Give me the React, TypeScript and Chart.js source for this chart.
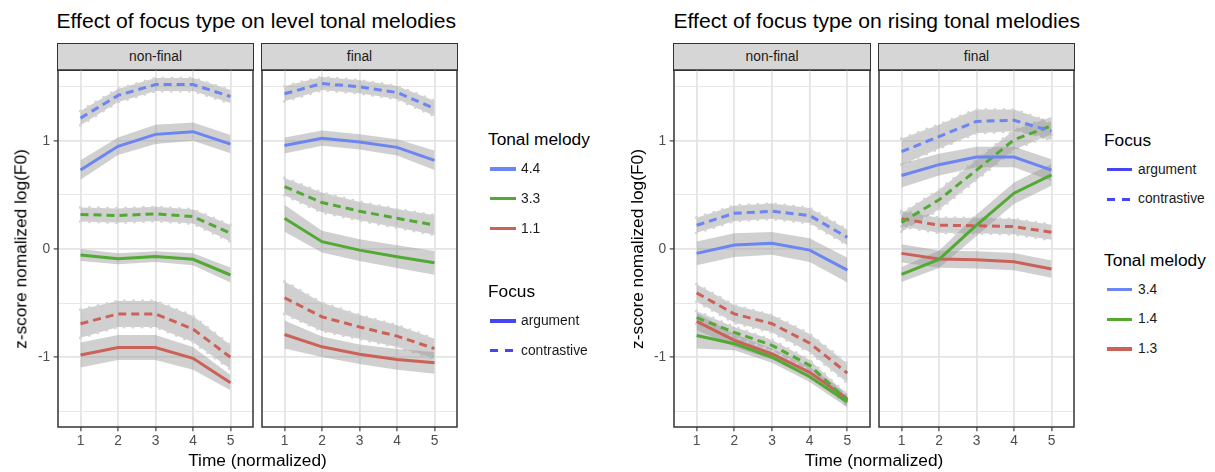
import React, { useEffect, useRef } from 'react';
import { Chart, registerables } from 'chart.js';

Chart.register(...registerables);

// ---------------- data ----------------
const timeSteps = [1, 2, 3, 4, 5];
const yMajorTicks = [-1, 0, 1];
const yMinorTicks = [-1.5, -0.5, 0.5, 1.5];
const facetLabels = ['non-final', 'final'];
const focusTypes = ['argument', 'contrastive'];
const levelTones = ['4.4', '3.3', '1.1'];
const risingTones = ['3.4', '1.4', '1.3'];
const plotTitles = ['Effect of focus type on level tonal melodies', 'Effect of focus type on rising tonal melodies'];
const xAxisTitle = 'Time (normalized)';
const yAxisTitle = 'z-score nomalized log(F0)';

// level tonal melodies, non-final
const lvlNF44Arg = [0.73, 0.95, 1.06, 1.085, 0.97];
const lvlNF44ArgCI = [0.09, 0.08, 0.09, 0.085, 0.085];
const lvlNF44Con = [1.21, 1.42, 1.52, 1.52, 1.41];
const lvlNF44ConCI = [0.065, 0.06, 0.06, 0.06, 0.06];
const lvlNF33Arg = [-0.055, -0.09, -0.07, -0.095, -0.24];
const lvlNF33ArgCI = [0.055, 0.05, 0.05, 0.055, 0.07];
const lvlNF33Con = [0.32, 0.31, 0.325, 0.3, 0.145];
const lvlNF33ConCI = [0.065, 0.065, 0.065, 0.065, 0.075];
const lvlNF11Arg = [-0.98, -0.91, -0.91, -1.01, -1.235];
const lvlNF11ArgCI = [0.115, 0.115, 0.115, 0.105, 0.07];
const lvlNF11Con = [-0.69, -0.6, -0.6, -0.74, -1.0];
const lvlNF11ConCI = [0.13, 0.12, 0.12, 0.12, 0.11];

// level tonal melodies, final
const lvlF44Arg = [0.957, 1.025, 0.99, 0.94, 0.82];
const lvlF44ArgCI = [0.075, 0.07, 0.07, 0.075, 0.09];
const lvlF44Con = [1.435, 1.53, 1.5, 1.447, 1.3];
const lvlF44ConCI = [0.07, 0.06, 0.06, 0.06, 0.07];
const lvlF33Arg = [0.284, 0.068, -0.01, -0.071, -0.127];
const lvlF33ArgCI = [0.125, 0.1, 0.1, 0.105, 0.11];
const lvlF33Con = [0.577, 0.43, 0.35, 0.284, 0.222];
const lvlF33ConCI = [0.08, 0.09, 0.085, 0.085, 0.09];
const lvlF11Arg = [-0.79, -0.904, -0.972, -1.02, -1.052];
const lvlF11ArgCI = [0.13, 0.095, 0.09, 0.095, 0.1];
const lvlF11Con = [-0.45, -0.627, -0.72, -0.805, -0.92];
const lvlF11ConCI = [0.15, 0.13, 0.11, 0.1, 0.09];

// rising tonal melodies, non-final
const risNF34Arg = [-0.04, 0.037, 0.053, -0.01, -0.195];
const risNF34ArgCI = [0.11, 0.11, 0.105, 0.11, 0.115];
const risNF34Con = [0.22, 0.33, 0.35, 0.31, 0.108];
const risNF34ConCI = [0.07, 0.07, 0.07, 0.07, 0.07];
const risNF14Arg = [-0.8, -0.875, -1.0, -1.18, -1.415];
const risNF14ArgCI = [0.12, 0.06, 0.05, 0.05, 0.05];
const risNF14Con = [-0.634, -0.77, -0.89, -1.075, -1.4];
const risNF14ConCI = [0.06, 0.05, 0.05, 0.05, 0.05];
const risNF13Arg = [-0.668, -0.845, -0.97, -1.14, -1.385];
const risNF13ArgCI = [0.08, 0.06, 0.05, 0.05, 0.05];
const risNF13Con = [-0.405, -0.6, -0.69, -0.87, -1.147];
const risNF13ConCI = [0.08, 0.08, 0.08, 0.085, 0.09];

// rising tonal melodies, final
const risF34Arg = [0.68, 0.78, 0.85, 0.85, 0.73];
const risF34ArgCI = [0.11, 0.1, 0.095, 0.095, 0.1];
const risF34Con = [0.9, 1.04, 1.18, 1.19, 1.09];
const risF34ConCI = [0.12, 0.11, 0.11, 0.1, 0.08];
const risF14Arg = [-0.235, -0.096, 0.22, 0.516, 0.686];
const risF14ArgCI = [0.07, 0.08, 0.1, 0.1, 0.1];
const risF14Con = [0.245, 0.455, 0.73, 1.01, 1.14];
const risF14ConCI = [0.085, 0.09, 0.09, 0.09, 0.08];
const risF13Arg = [-0.04, -0.093, -0.1, -0.117, -0.185];
const risF13ArgCI = [0.085, 0.08, 0.08, 0.08, 0.08];
const risF13Con = [0.28, 0.22, 0.216, 0.207, 0.155];
const risF13ConCI = [0.07, 0.07, 0.07, 0.07, 0.07];

type Series = { tone: string; focus: string; mean: number[]; ci: number[] };

const levelNonFinal: Series[] = [
  { tone: '4.4', focus: 'argument', mean: lvlNF44Arg, ci: lvlNF44ArgCI },
  { tone: '4.4', focus: 'contrastive', mean: lvlNF44Con, ci: lvlNF44ConCI },
  { tone: '3.3', focus: 'argument', mean: lvlNF33Arg, ci: lvlNF33ArgCI },
  { tone: '3.3', focus: 'contrastive', mean: lvlNF33Con, ci: lvlNF33ConCI },
  { tone: '1.1', focus: 'argument', mean: lvlNF11Arg, ci: lvlNF11ArgCI },
  { tone: '1.1', focus: 'contrastive', mean: lvlNF11Con, ci: lvlNF11ConCI },
];
const levelFinal: Series[] = [
  { tone: '4.4', focus: 'argument', mean: lvlF44Arg, ci: lvlF44ArgCI },
  { tone: '4.4', focus: 'contrastive', mean: lvlF44Con, ci: lvlF44ConCI },
  { tone: '3.3', focus: 'argument', mean: lvlF33Arg, ci: lvlF33ArgCI },
  { tone: '3.3', focus: 'contrastive', mean: lvlF33Con, ci: lvlF33ConCI },
  { tone: '1.1', focus: 'argument', mean: lvlF11Arg, ci: lvlF11ArgCI },
  { tone: '1.1', focus: 'contrastive', mean: lvlF11Con, ci: lvlF11ConCI },
];
const risingNonFinal: Series[] = [
  { tone: '3.4', focus: 'argument', mean: risNF34Arg, ci: risNF34ArgCI },
  { tone: '3.4', focus: 'contrastive', mean: risNF34Con, ci: risNF34ConCI },
  { tone: '1.4', focus: 'argument', mean: risNF14Arg, ci: risNF14ArgCI },
  { tone: '1.4', focus: 'contrastive', mean: risNF14Con, ci: risNF14ConCI },
  { tone: '1.3', focus: 'argument', mean: risNF13Arg, ci: risNF13ArgCI },
  { tone: '1.3', focus: 'contrastive', mean: risNF13Con, ci: risNF13ConCI },
];
const risingFinal: Series[] = [
  { tone: '3.4', focus: 'argument', mean: risF34Arg, ci: risF34ArgCI },
  { tone: '3.4', focus: 'contrastive', mean: risF34Con, ci: risF34ConCI },
  { tone: '1.4', focus: 'argument', mean: risF14Arg, ci: risF14ArgCI },
  { tone: '1.4', focus: 'contrastive', mean: risF14Con, ci: risF14ConCI },
  { tone: '1.3', focus: 'argument', mean: risF13Arg, ci: risF13ArgCI },
  { tone: '1.3', focus: 'contrastive', mean: risF13Con, ci: risF13ConCI },
];

// ---------------- styles ----------------
const FONT = '"Liberation Sans", Arial, Helvetica, sans-serif';
const TONE_COLORS = ['#6B85F2', '#52AA35', '#CC6158'];
const FOCUS_COLOR = '#4545F2';
const BAND_FILL = 'rgba(150,150,150,0.45)';
const BAND_DOT = '#D4D4D4';
const GRID = '#E4E4E4';
const X_MIN = 0.4;
const X_MAX = 5.6;
const Y_MIN = -1.645;
const Y_MAX = 1.655;
const TICK_SIZE = 13.8;
const SMALL_TEXT = 13.8;
const MID_TEXT = 17.3;
const TITLE_TEXT = 21.1;

type Rect = { x0: number; x1: number; y0: number; y1: number };

const panelBorder = {
  id: 'panelBorder',
  afterDraw(chart: any) {
    const { ctx, chartArea } = chart;
    ctx.save();
    ctx.strokeStyle = '#333333';
    ctx.lineWidth = 1.5;
    ctx.strokeRect(chartArea.left, chartArea.top, chartArea.right - chartArea.left, chartArea.bottom - chartArea.top);
    ctx.restore();
  },
};

const isMajor = (v: any) => yMajorTicks.includes(v);

function Facet({ rect, showY, series, tones }: { rect: Rect; showY: boolean; series: Series[]; tones: string[] }) {
  const ref = useRef<HTMLCanvasElement>(null);
  const PAD = 3;
  const X_AXIS_H = 30;
  const yW = showY ? 34 : 0;
  const padL = showY ? 0 : PAD;
  const w = rect.x1 - rect.x0;
  const h = rect.y1 - rect.y0;
  const cw = yW + padL + w + PAD;
  const ch = PAD + h + X_AXIS_H;
  const left = rect.x0 - yW - padL;
  const top = rect.y0 - PAD;

  useEffect(() => {
    const datasets: any[] = [];
    series.forEach((s) => {
      const contrast = s.focus === 'contrastive';
      const edge = {
        borderColor: contrast ? BAND_DOT : 'rgba(0,0,0,0)',
        borderWidth: contrast ? 3.2 : 1,
        borderDash: contrast ? [0, 9] : [],
        borderCapStyle: 'round',
        pointRadius: 0,
        tension: 0,
        order: 2,
      };
      datasets.push({ ...edge, fill: false, data: timeSteps.map((t, i) => ({ x: t, y: s.mean[i] + s.ci[i] })) });
      datasets.push({ ...edge, fill: '-1', backgroundColor: BAND_FILL, data: timeSteps.map((t, i) => ({ x: t, y: s.mean[i] - s.ci[i] })) });
    });
    series.forEach((s) => {
      const contrast = s.focus === 'contrastive';
      datasets.push({
        data: timeSteps.map((t, i) => ({ x: t, y: s.mean[i] })),
        borderColor: TONE_COLORS[tones.indexOf(s.tone)],
        borderWidth: 3,
        borderDash: contrast ? [8, 5] : [],
        borderCapStyle: 'butt',
        pointRadius: 0,
        tension: 0,
        fill: false,
        order: 1,
      });
    });

    const chart = new Chart(ref.current as HTMLCanvasElement, {
      type: 'line',
      data: { datasets },
      options: {
        animation: false,
        responsive: false,
        devicePixelRatio: 1,
        events: [],
        layout: { padding: { top: PAD, right: PAD, left: padL, bottom: 0 } },
        plugins: { legend: { display: false }, tooltip: { enabled: false } },
        scales: {
          x: {
            type: 'linear',
            min: X_MIN,
            max: X_MAX,
            afterBuildTicks: (s: any) => {
              s.ticks = timeSteps.map((v) => ({ value: v }));
            },
            afterFit: (s: any) => {
              s.height = X_AXIS_H;
              s.paddingLeft = 0;
              s.paddingRight = 0;
              s.paddingTop = 0;
              s.paddingBottom = 0;
            },
            border: { display: false },
            grid: { color: GRID, lineWidth: 1.8, drawTicks: true, tickLength: 4.3, tickWidth: 1.1, tickColor: '#333333' },
            ticks: {
              padding: 2,
              color: '#4D4D4D',
              font: { family: FONT, size: TICK_SIZE },
              autoSkip: false,
              maxRotation: 0,
              callback: (v: any) => String(v),
            },
          },
          y: {
            type: 'linear',
            min: Y_MIN,
            max: Y_MAX,
            afterBuildTicks: (s: any) => {
              s.ticks = [...yMinorTicks, ...yMajorTicks].sort((a, b) => a - b).map((v) => ({ value: v }));
            },
            afterFit: (s: any) => {
              s.width = yW;
              s.paddingLeft = 0;
              s.paddingRight = 0;
              s.paddingTop = 0;
              s.paddingBottom = 0;
            },
            border: { display: false },
            grid: {
              color: GRID,
              lineWidth: (c: any) => (isMajor(c.tick?.value) ? 1.8 : 0.9),
              drawTicks: showY,
              tickLength: 4.3,
              tickWidth: 1.1,
              tickColor: (c: any) => (isMajor(c.tick?.value) ? '#333333' : 'rgba(0,0,0,0)'),
            },
            ticks: {
              display: showY,
              padding: 3.5,
              color: '#4D4D4D',
              autoSkip: false,
              font: { family: FONT, size: TICK_SIZE },
              callback: (v: any) => (isMajor(v) ? String(v) : ''),
            },
          },
        },
      } as any,
      plugins: [panelBorder],
    });
    return () => chart.destroy();
  }, []);

  return (
    <canvas
      ref={ref}
      width={cw}
      height={ch}
      style={{ position: 'absolute', left, top, width: cw, height: ch }}
    />
  );
}

function Text({ x, y, size, text, color = '#000', center = false }: any) {
  return (
    <div
      style={{
        position: 'absolute',
        left: x,
        top: y - 0.49 * size,
        fontSize: size,
        lineHeight: `${size}px`,
        color,
        whiteSpace: 'nowrap',
        transform: center ? 'translateX(-50%)' : undefined,
      }}
    >
      {text}
    </div>
  );
}

function Strip({ rect, label }: { rect: Rect; label: string }) {
  return (
    <div
      style={{
        position: 'absolute',
        left: rect.x0 - 0.75,
        top: 42.8,
        width: rect.x1 - rect.x0 + 1.5,
        height: rect.y0 - 42.8 + 0.75,
        boxSizing: 'border-box',
        border: '1.5px solid #333333',
        background: '#D6D6D6',
        color: '#1A1A1A',
        fontSize: SMALL_TEXT,
        lineHeight: `${rect.y0 - 42.8 - 2}px`,
        textAlign: 'center',
      }}
    >
      {label}
    </div>
  );
}

function YTitle({ cx, cy }: { cx: number; cy: number }) {
  return (
    <div
      style={{
        position: 'absolute',
        left: cx,
        top: cy,
        fontSize: MID_TEXT,
        lineHeight: `${MID_TEXT}px`,
        whiteSpace: 'nowrap',
        transform: 'translate(-50%, -50%) rotate(-90deg)',
      }}
    >
      {yAxisTitle}
    </div>
  );
}

function Key({ x, y, color, dashed }: { x: number; y: number; color: string; dashed: boolean }) {
  return (
    <div
      style={{
        position: 'absolute',
        left: x,
        top: y - 1.7,
        width: 25.5,
        height: 3.4,
        background: dashed
          ? `repeating-linear-gradient(90deg, ${color} 0px, ${color} 8px, transparent 8px, transparent 15px)`
          : color,
      }}
    />
  );
}

function Legend({ x, tonesTitleY, focusTitleY, tones }: { x: number; tonesTitleY: number; focusTitleY: number; tones: string[] }) {
  const step = 29.9;
  const keyX = x + 2.2;
  const labelX = x + 33;
  const items: any[] = [];
  items.push(<Text key="tt" x={x} y={tonesTitleY} size={MID_TEXT} text="Tonal melody" />);
  tones.forEach((t, i) => {
    const y = tonesTitleY + 29.4 + i * step;
    items.push(<Key key={'tk' + i} x={keyX} y={y} color={TONE_COLORS[i]} dashed={false} />);
    items.push(<Text key={'tl' + i} x={labelX} y={y} size={SMALL_TEXT} text={t} color="#1A1A1A" />);
  });
  items.push(<Text key="ft" x={x} y={focusTitleY} size={MID_TEXT} text="Focus" />);
  focusTypes.forEach((f, i) => {
    const y = focusTitleY + 29.2 + i * step;
    items.push(<Key key={'fk' + i} x={keyX} y={y} color={FOCUS_COLOR} dashed={f === 'contrastive'} />);
    items.push(<Text key={'fl' + i} x={labelX} y={y} size={SMALL_TEXT} text={f} color="#1A1A1A" />);
  });
  return <>{items}</>;
}

function RightLegend() {
  const x = 1104;
  const step = 29.9;
  const keyX = x + 2.5;
  const labelX = x + 34;
  const focusTitleY = 140;
  const tonesTitleY = 260;
  const items: any[] = [];
  items.push(<Text key="ft" x={x} y={focusTitleY} size={MID_TEXT} text="Focus" />);
  focusTypes.forEach((f, i) => {
    const y = focusTitleY + 29.3 + i * step;
    items.push(<Key key={'fk' + i} x={keyX} y={y} color={FOCUS_COLOR} dashed={f === 'contrastive'} />);
    items.push(<Text key={'fl' + i} x={labelX} y={y} size={SMALL_TEXT} text={f} color="#1A1A1A" />);
  });
  items.push(<Text key="tt" x={x} y={tonesTitleY} size={MID_TEXT} text="Tonal melody" />);
  risingTones.forEach((t, i) => {
    const y = tonesTitleY + 29.3 + i * step;
    items.push(<Key key={'tk' + i} x={keyX} y={y} color={TONE_COLORS[i]} dashed={false} />);
    items.push(<Text key={'tl' + i} x={labelX} y={y} size={SMALL_TEXT} text={t} color="#1A1A1A" />);
  });
  return <>{items}</>;
}

const rectA: Rect = { x0: 58, x1: 253, y0: 70, y1: 427 };
const rectB: Rect = { x0: 262, x1: 457, y0: 70, y1: 427 };
const rectC: Rect = { x0: 674, x1: 870, y0: 70, y1: 427 };
const rectD: Rect = { x0: 879, x1: 1074, y0: 70, y1: 427 };

export default function App() {
  useEffect(() => {
    document.body.style.margin = '0';
  }, []);
  return (
    <div
      style={{
        position: 'fixed',
        left: 0,
        top: 0,
        width: 1215,
        height: 472,
        background: '#FFFFFF',
        fontFamily: FONT,
        overflow: 'hidden',
      }}
    >
      <Text x={56.5} y={20.6} size={TITLE_TEXT} text={plotTitles[0]} color="#000" />
      <Text x={673.5} y={20.6} size={TITLE_TEXT} text={plotTitles[1]} color="#000" />

      <Strip rect={rectA} label={facetLabels[0]} />
      <Strip rect={rectB} label={facetLabels[1]} />
      <Strip rect={rectC} label={facetLabels[0]} />
      <Strip rect={rectD} label={facetLabels[1]} />

      <Facet rect={rectA} showY={true} series={levelNonFinal} tones={levelTones} />
      <Facet rect={rectB} showY={false} series={levelFinal} tones={levelTones} />
      <Facet rect={rectC} showY={true} series={risingNonFinal} tones={risingTones} />
      <Facet rect={rectD} showY={false} series={risingFinal} tones={risingTones} />

      <Text x={(rectA.x0 + rectB.x1) / 2} y={460.5} size={MID_TEXT} text={xAxisTitle} center />
      <Text x={(rectC.x0 + rectD.x1) / 2} y={460.5} size={MID_TEXT} text={xAxisTitle} center />
      <YTitle cx={21} cy={(rectA.y0 + rectA.y1) / 2} />
      <YTitle cx={637.5} cy={(rectC.y0 + rectC.y1) / 2} />

      <Legend x={488} tonesTitleY={139.5} focusTitleY={291.7} tones={levelTones} />
      <RightLegend />
    </div>
  );
}
